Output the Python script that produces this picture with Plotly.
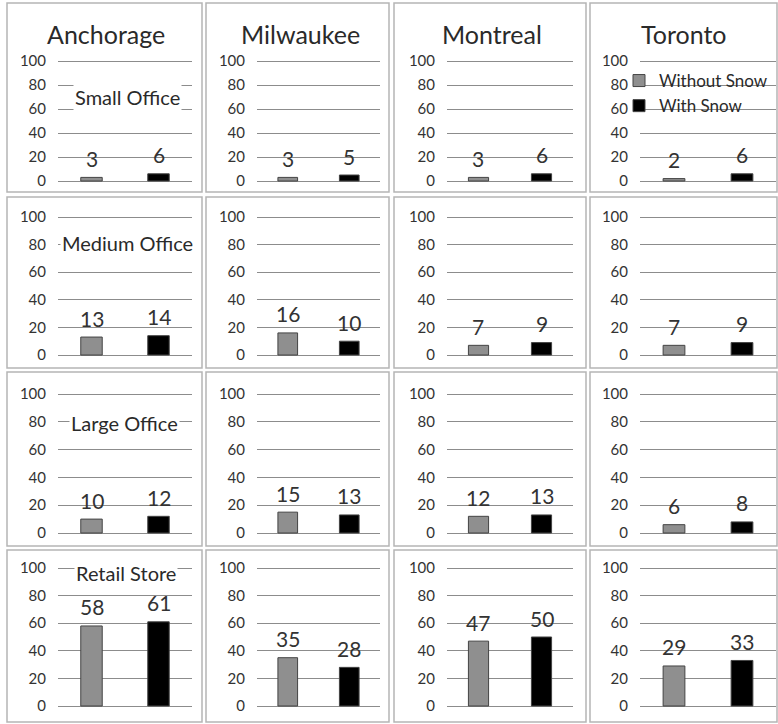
import plotly.graph_objects as go

cities = ["Anchorage", "Milwaukee", "Montreal", "Toronto"]
building_types = ["Small Office", "Medium Office", "Large Office", "Retail Store"]
series_names = ["Without Snow", "With Snow"]
series_colors = ["#8f8f8f", "#000000"]

without_snow = {
    "Small Office": [3, 3, 3, 2],
    "Medium Office": [13, 16, 7, 7],
    "Large Office": [10, 15, 12, 6],
    "Retail Store": [58, 35, 47, 29],
}
with_snow = {
    "Small Office": [6, 5, 6, 6],
    "Medium Office": [14, 10, 9, 9],
    "Large Office": [12, 13, 13, 8],
    "Retail Store": [61, 28, 50, 33],
}
y_ticks = [0, 20, 40, 60, 80, 100]

W, H = 778, 724
# plot-area pixel extents
col_px = [(58, 192), (257, 380), (447, 573), (640, 776)]
row_px = [(61, 181), (217, 355), (394, 533), (568, 706)]  # (y of 100, y of 0)
panel_cols = [(7, 202), (206, 389), (394, 586), (590, 777)]
panel_rows = [(3, 192), (197, 368), (372, 546), (550, 722)]
title_x = [106, 300, 492, 684]
title_y = 34
row_label_pos = [(128, 97), (127, 243), (124, 423), (126, 573)]

YMIN, YMAX = -3, 103

fig = go.Figure()
layout = {}
shapes = []
annotations = []

idx = 0
for r, bt in enumerate(building_types):
    y100, y0 = row_px[r]
    per = (y0 - y100) / 100.0
    top = y100 - (YMAX - 100) * per
    bot = y0 + (0 - YMIN) * per
    for c, city in enumerate(cities):
        idx += 1
        xa = "x" if idx == 1 else f"x{idx}"
        ya = "y" if idx == 1 else f"y{idx}"
        vals = [without_snow[bt][c], with_snow[bt][c]]
        for s in range(2):
            fig.add_trace(go.Bar(
                x=[series_names[s]], y=[vals[s]],
                name=series_names[s],
                marker=dict(color=series_colors[s], line=dict(color="#444", width=1)),
                width=0.32,
                xaxis=xa, yaxis=ya,
                showlegend=(idx == 1),
                legendgroup=series_names[s],
                hoverinfo="skip",
            ))
            annotations.append(dict(
                text=str(vals[s]), x=series_names[s], y=vals[s],
                xref=xa, yref=ya, showarrow=False,
                xanchor="center", yanchor="middle", yshift=19,
                font=dict(size=21, color="#333", family="Lato"),
            ))
        x0p, x1p = col_px[c]
        layout["xaxis" if idx == 1 else f"xaxis{idx}"] = dict(
            domain=[x0p / W, x1p / W], anchor=ya,
            type="category", categoryorder="array", categoryarray=series_names,
            range=[-0.5, 1.5], showticklabels=False, showgrid=False,
            zeroline=False, showline=False, fixedrange=True,
        )
        layout["yaxis" if idx == 1 else f"yaxis{idx}"] = dict(
            domain=[1 - bot / H, 1 - top / H], anchor=xa,
            range=[YMIN, YMAX], tickvals=y_ticks,
            showgrid=True, gridcolor="#8c8c8c", gridwidth=1.2,
            zeroline=False, showline=False,
            tickfont=dict(size=15, color="#333", family="Lato"),
            ticklabelstandoff=11, fixedrange=True, automargin=False,
        )

# panel borders
for r in range(4):
    for c in range(4):
        px0, px1 = panel_cols[c]
        py0, py1 = panel_rows[r]
        shapes.append(dict(type="rect", xref="paper", yref="paper",
                           x0=px0 / W, x1=px1 / W, y0=1 - py1 / H, y1=1 - py0 / H,
                           line=dict(color="#b5b5b5", width=1.5), layer="below"))

for c, city in enumerate(cities):
    annotations.append(dict(text=city, x=title_x[c] / W, y=1 - title_y / H,
                            xref="paper", yref="paper", showarrow=False,
                            xanchor="center", yanchor="middle",
                            font=dict(size=25, color="#2a2a2a", family="Lato")))
for r, bt in enumerate(building_types):
    lx, ly = row_label_pos[r]
    annotations.append(dict(text=bt, x=lx / W, y=1 - ly / H,
                            xref="paper", yref="paper", showarrow=False,
                            xanchor="center", yanchor="middle",
                            bgcolor="white",
                            font=dict(size=20, color="#2a2a2a", family="Lato")))

fig.update_layout(
    width=W, height=H,
    margin=dict(l=0, r=0, t=0, b=0, autoexpand=False),
    paper_bgcolor="white", plot_bgcolor="white",
    barmode="overlay",
    shapes=shapes, annotations=annotations,
    legend=dict(x=619 / W, y=1 - 63 / H, xanchor="left", yanchor="top",
                bgcolor="rgba(255,255,255,0)", font=dict(size=17, color="#2a2a2a", family="Lato"),
                itemwidth=30, tracegroupgap=0),
    **layout,
)

fig.write_html("out.html", config={"displayModeBar": False},
               post_script="document.body.style.margin='0';document.body.style.overflow='hidden';")
